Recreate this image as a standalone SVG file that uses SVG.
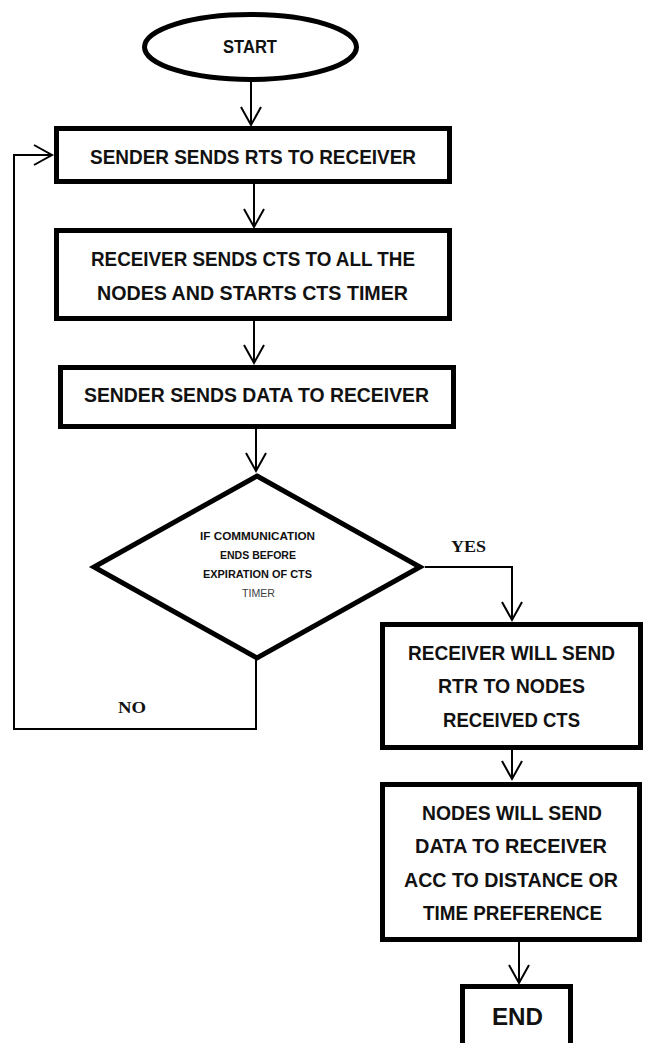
<svg xmlns="http://www.w3.org/2000/svg" width="646" height="1043" viewBox="0 0 646 1043">
<style>
.shape{fill:#fff;stroke:#000;stroke-width:5}
.conn{fill:none;stroke:#000;stroke-width:2}
.t{font-family:"Liberation Sans",Arial,sans-serif;font-weight:bold;fill:#111;text-anchor:middle}
.box{font-size:20px}
.dia{font-size:11px}
.lbl{font-family:"Liberation Serif","Times New Roman",serif;font-weight:bold;font-size:16px;fill:#111}
</style>
<defs>
<marker id="arr" markerUnits="userSpaceOnUse" markerWidth="40" markerHeight="40" refX="0" refY="0" orient="auto" viewBox="-20 -20 40 40" overflow="visible">
<path d="M-18,-10 L0,0 L-18,10" fill="none" stroke="#000" stroke-width="2"/>
</marker>
</defs>
<rect width="646" height="1043" fill="#fff"/>
<g id="connectors">
<line class="conn" x1="251" y1="82" x2="251" y2="125" marker-end="url(#arr)"/>
<line class="conn" x1="254" y1="184" x2="254" y2="227" marker-end="url(#arr)"/>
<line class="conn" x1="254" y1="321" x2="254" y2="363" marker-end="url(#arr)"/>
<line class="conn" x1="256" y1="429" x2="256" y2="471" marker-end="url(#arr)"/>
<path class="conn" d="M425,567 H512 V620" marker-end="url(#arr)"/>
<path class="conn" d="M256,658 V729 H14 V155 H52" marker-end="url(#arr)"/>
<line class="conn" x1="512" y1="750" x2="512" y2="779" marker-end="url(#arr)"/>
<line class="conn" x1="519" y1="942" x2="519" y2="983" marker-end="url(#arr)"/>
<text class="lbl" x="451" y="552" textLength="35" lengthAdjust="spacingAndGlyphs">YES</text>
<text class="lbl" x="118" y="713" textLength="28" lengthAdjust="spacingAndGlyphs">NO</text>
</g>
<g id="start">
<ellipse class="shape" cx="250.5" cy="47" rx="106" ry="32.5" stroke-width="4.5"/>
<text class="t" x="250" y="53" font-size="18" textLength="54" lengthAdjust="spacingAndGlyphs">START</text>
</g>
<g id="rts">
<rect class="shape" x="56.5" y="128.5" width="393" height="53"/>
<text class="t box" x="253" y="164" textLength="326" lengthAdjust="spacingAndGlyphs">SENDER SENDS RTS TO RECEIVER</text>
</g>
<g id="cts">
<rect class="shape" x="56.5" y="230.5" width="393" height="88"/>
<text class="t box" x="253" y="266" textLength="324" lengthAdjust="spacingAndGlyphs">RECEIVER SENDS CTS TO ALL THE</text>
<text class="t box" x="252.5" y="300" textLength="311" lengthAdjust="spacingAndGlyphs">NODES AND STARTS CTS TIMER</text>
</g>
<g id="data">
<rect class="shape" x="60.5" y="367.5" width="393" height="59"/>
<text class="t box" x="256.5" y="402" textLength="345" lengthAdjust="spacingAndGlyphs">SENDER SENDS DATA TO RECEIVER</text>
</g>
<g id="decision">
<polygon class="shape" points="257,476 420,567 257,658 94,567"/>
<text class="t dia" x="257.5" y="540" textLength="115" lengthAdjust="spacingAndGlyphs">IF COMMUNICATION</text>
<text class="t dia" x="258" y="559" textLength="76" lengthAdjust="spacingAndGlyphs">ENDS BEFORE</text>
<text class="t dia" x="257.5" y="578" textLength="109" lengthAdjust="spacingAndGlyphs">EXPIRATION OF CTS</text>
<text class="t dia" x="258.5" y="597" style="font-weight:normal;fill:#404040" textLength="33" lengthAdjust="spacingAndGlyphs">TIMER</text>
</g>
<g id="rtr">
<rect class="shape" x="382.5" y="624.5" width="258" height="123"/>
<text class="t box" x="511.5" y="660" textLength="207" lengthAdjust="spacingAndGlyphs">RECEIVER WILL SEND</text>
<text class="t box" x="511.5" y="693" textLength="147" lengthAdjust="spacingAndGlyphs">RTR TO NODES</text>
<text class="t box" x="511.5" y="727" textLength="137" lengthAdjust="spacingAndGlyphs">RECEIVED CTS</text>
</g>
<g id="nodes">
<rect class="shape" x="382.5" y="784.5" width="257" height="155"/>
<text class="t box" x="512" y="820" textLength="180" lengthAdjust="spacingAndGlyphs">NODES WILL SEND</text>
<text class="t box" x="511" y="853" textLength="192" lengthAdjust="spacingAndGlyphs">DATA TO RECEIVER</text>
<text class="t box" x="511" y="887" textLength="214" lengthAdjust="spacingAndGlyphs">ACC TO DISTANCE OR</text>
<text class="t box" x="512.5" y="920" textLength="179" lengthAdjust="spacingAndGlyphs">TIME PREFERENCE</text>
</g>
<g id="end">
<rect class="shape" x="462.5" y="986.5" width="108" height="70"/>
<text class="t" x="517.5" y="1025" font-size="24" textLength="51" lengthAdjust="spacingAndGlyphs">END</text>
</g>
</svg>
